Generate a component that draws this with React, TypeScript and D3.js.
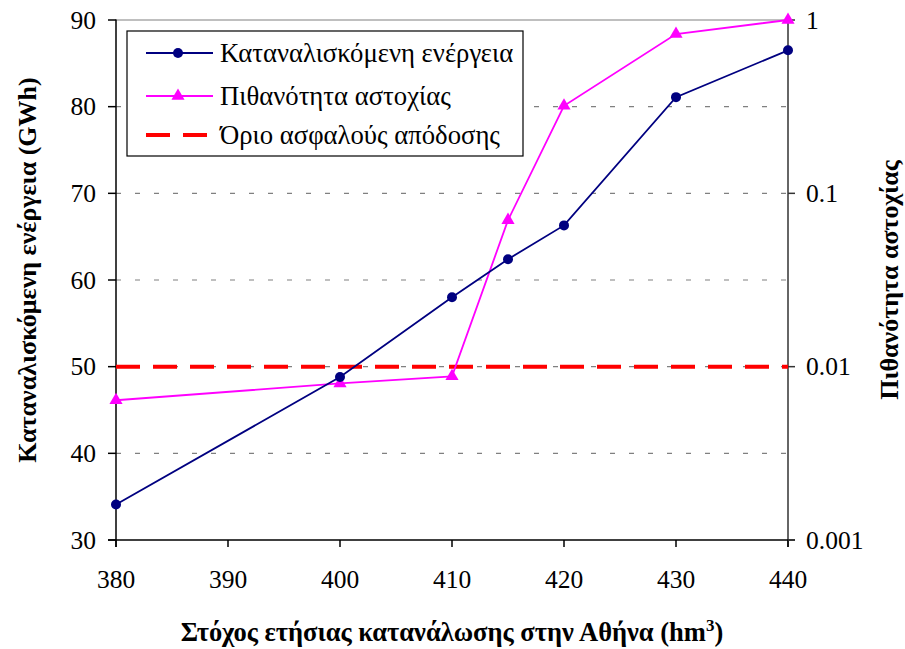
import React from "react";
import * as d3 from "d3";

const xValues = [380, 400, 410, 415, 420, 430, 440];
const energy = [34.1, 48.8, 58.0, 62.4, 66.3, 81.1, 86.5];
const failProb = [0.0064, 0.0080, 0.0088, 0.070, 0.32, 0.83, 1.0];
const xTicks = [380, 390, 400, 410, 420, 430, 440];
const yTicks = [30, 40, 50, 60, 70, 80, 90];
const y2Ticks = [0.001, 0.01, 0.1, 1];
const safeLimit = 50;
const legendLabels = ["Καταναλισκόμενη ενέργεια", "Πιθανότητα αστοχίας", "Όριο ασφαλούς απόδοσης"];

const W = 905, H = 649;
const L = 116, R = 788, T = 20, B = 540;
const FONT = "'Liberation Serif', 'Times New Roman', serif";

export default function App() {
  const x = d3.scaleLinear().domain([380, 440]).range([L, R]);
  const y = d3.scaleLinear().domain([30, 90]).range([B, T]);
  const y2 = d3.scaleLog().domain([0.001, 1]).range([B, T]);

  const lineE = d3.line<number>().x((_, i) => x(xValues[i])).y(d => y(d));
  const lineP = d3.line<number>().x((_, i) => x(xValues[i])).y(d => y2(d));
  const tri = d3.symbol().type(d3.symbolTriangle).size(75)();

  return (
    <svg width={W} height={H} style={{ position: "absolute", left: 0, top: 0, background: "#fff", fontFamily: FONT }}>
      <rect width={W} height={H} fill="#fff" />
      {/* gridlines */}
      {yTicks.slice(1).map(t => (
        <line key={t} x1={L} x2={R} y1={y(t)} y2={y(t)} stroke="#808080" strokeWidth={1.2}
          strokeDasharray={t === 90 ? "none" : "5,14"} />
      ))}
      {/* axes */}
      <line x1={L} x2={L} y1={T - 0.5} y2={B + 7} stroke="#000" strokeWidth={1.5} />
      <line x1={R} x2={R} y1={T} y2={B + 7} stroke="#333" strokeWidth={1.5} />
      <line x1={L - 8} x2={R + 7} y1={B} y2={B} stroke="#000" strokeWidth={1.5} />
      {yTicks.map(t => (
        <g key={t}>
          <line x1={L - 8} x2={L} y1={y(t)} y2={y(t)} stroke="#000" strokeWidth={1.5} />
          <text x={96} y={y(t)} dy="0.34em" textAnchor="end" fontSize={25.5}>{t}</text>
        </g>
      ))}
      {xTicks.map(t => (
        <g key={t}>
          <line x1={x(t)} x2={x(t)} y1={B} y2={B + 7} stroke="#000" strokeWidth={1.5} />
          <text x={x(t)} y={588} textAnchor="middle" fontSize={25.5}>{t}</text>
        </g>
      ))}
      {y2Ticks.map(t => (
        <g key={t}>
          <line x1={R} x2={R + 7} y1={y2(t)} y2={y2(t)} stroke="#333" strokeWidth={1.5} />
          <text x={806} y={y2(t)} dy="0.34em" textAnchor="start" fontSize={25.5}>{t}</text>
        </g>
      ))}
      {/* safe limit */}
      <line x1={L} x2={R} y1={y(safeLimit)} y2={y(safeLimit)} stroke="#ff0000" strokeWidth={4} strokeDasharray="24,13" />
      {/* probability */}
      <path d={lineP(failProb) || ""} fill="none" stroke="#ff00ff" strokeWidth={1.8} />
      {failProb.map((v, i) => (
        <path key={i} d={tri || ""} transform={`translate(${x(xValues[i])},${y2(v)})`} fill="#ff00ff" />
      ))}
      {/* energy */}
      <path d={lineE(energy) || ""} fill="none" stroke="#000080" strokeWidth={1.8} />
      {energy.map((v, i) => (
        <circle key={i} cx={x(xValues[i])} cy={y(v)} r={5} fill="#000080" />
      ))}
      {/* legend */}
      <rect x={127} y={31} width={396} height={125} fill="#fff" stroke="#000" strokeWidth={1.2} />
      <line x1={146} x2={213} y1={53} y2={53} stroke="#000080" strokeWidth={1.8} />
      <circle cx={178} cy={53} r={5} fill="#000080" />
      <line x1={146} x2={213} y1={96} y2={96} stroke="#ff00ff" strokeWidth={1.8} />
      <path d={tri || ""} transform="translate(178,96)" fill="#ff00ff" />
      <line x1={146} x2={213} y1={135} y2={135} stroke="#ff0000" strokeWidth={4} strokeDasharray="24,13" />
      {legendLabels.map((s, i) => (
        <text key={i} x={220} y={[53, 96, 135][i]} dy="0.34em" fontSize={26.7}>{s}</text>
      ))}
      {/* titles */}
      <text transform={`translate(36,270) rotate(-90)`} textAnchor="middle" fontSize={26} fontWeight="bold">
        Καταναλισκόμενη ενέργεια (GWh)
      </text>
      <text transform={`translate(898,280) rotate(-90)`} textAnchor="middle" fontSize={26} fontWeight="bold">
        Πιθανότητα αστοχίας
      </text>
      <text x={452} y={641} textAnchor="middle" fontSize={26.5} fontWeight="bold">
        Στόχος ετήσιας κατανάλωσης στην Αθήνα (hm<tspan dy={-10} fontSize={17}>3</tspan><tspan dy={10}>)</tspan>
      </text>
    </svg>
  );
}
